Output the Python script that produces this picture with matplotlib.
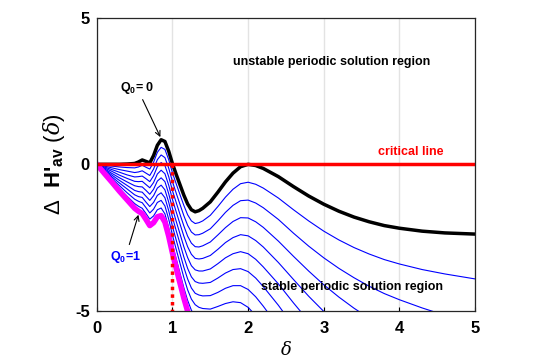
import matplotlib
matplotlib.use("Agg")
import matplotlib.pyplot as plt

plt.rcParams['font.family'] = ['Liberation Sans', 'DejaVu Sans']
plt.rcParams['mathtext.fontset'] = 'custom'
plt.rcParams['mathtext.rm'] = 'Liberation Sans'
plt.rcParams['mathtext.bf'] = 'Liberation Sans:bold'
plt.rcParams['mathtext.it'] = 'DejaVu Serif:italic'

# delta values where the curves were read
delta = [0, 0.1, 0.2, 0.3, 0.4, 0.5, 0.55, 0.6, 0.65, 0.7, 0.75, 0.8, 0.85, 0.9, 0.95,
         1.0, 1.05, 1.1, 1.15, 1.2, 1.25, 1.3, 1.35, 1.4, 1.5, 1.6, 1.7, 1.8, 1.9, 2.0,
         2.1, 2.2, 2.4, 2.6, 2.8, 3.0, 3.2, 3.4, 3.6, 3.8, 4.0, 4.3, 4.6, 5.0]

# Q0 = 0 (black)
h_q00 = [0, 0, 0, 0, 0.01, 0.03, 0.08, 0.15, 0.10, 0.05, 0.30, 0.65, 0.84, 0.78, 0.45,
         0.02, -0.35, -0.70, -1.05, -1.35, -1.55, -1.62, -1.58, -1.50, -1.28, -0.95, -0.60,
         -0.30, -0.08, 0, -0.04, -0.14, -0.42, -0.76, -1.08, -1.36, -1.60, -1.80, -1.96,
         -2.09, -2.18, -2.28, -2.34, -2.38]

# intermediate Q0 (blue), each read until it leaves the bottom of the axes
h_q01 = [0, -0.03, -0.06, -0.09, -0.11, -0.12, -0.09, -0.03, -0.10, -0.16, 0.07, 0.41, 0.58,
         0.51, 0.16, -0.29, -0.67, -1.04, -1.40, -1.72, -1.93, -2.02, -1.99, -1.93, -1.74,
         -1.44, -1.12, -0.85, -0.66, -0.61, -0.68, -0.81, -1.15, -1.55, -1.93, -2.28, -2.58,
         -2.84, -3.06, -3.25, -3.40, -3.59, -3.74, -3.91]
h_q02 = [0, -0.06, -0.12, -0.18, -0.23, -0.28, -0.26, -0.22, -0.30, -0.38, -0.16, 0.16, 0.32,
         0.23, -0.13, -0.59, -0.99, -1.37, -1.75, -2.08, -2.31, -2.41, -2.40, -2.35, -2.20,
         -1.93, -1.64, -1.40, -1.24, -1.22, -1.32, -1.48, -1.88, -2.35, -2.79, -3.19, -3.55,
         -3.87, -4.16, -4.41, -4.62, -4.90, -5.15, -5.43]
h_q03 = [0, -0.09, -0.18, -0.27, -0.36, -0.43, -0.42, -0.40, -0.49, -0.59, -0.39, -0.08, 0.06,
         -0.04, -0.42, -0.90, -1.31, -1.71, -2.10, -2.45, -2.69, -2.81, -2.82, -2.78, -2.65,
         -2.41, -2.16, -1.95, -1.82, -1.83, -1.96, -2.15, -2.62, -3.14, -3.64, -4.11, -4.53,
         -4.91, -5.25]
h_q04 = [0, -0.12, -0.24, -0.37, -0.48, -0.58, -0.59, -0.58, -0.69, -0.80, -0.62, -0.33, -0.20,
         -0.32, -0.71, -1.20, -1.63, -2.04, -2.45, -2.81, -3.07, -3.21, -3.23, -3.21, -3.11,
         -2.90, -2.67, -2.50, -2.40, -2.44, -2.60, -2.82, -3.35, -3.93, -4.50, -5.02, -5.50]
h_q05 = [0, -0.15, -0.31, -0.46, -0.60, -0.73, -0.76, -0.77, -0.89, -1.02, -0.85, -0.57, -0.46,
         -0.59, -1.00, -1.51, -1.95, -2.38, -2.81, -3.18, -3.46, -3.60, -3.64, -3.64, -3.57,
         -3.39, -3.19, -3.05, -2.98, -3.05, -3.24, -3.50, -4.08, -4.73, -5.35]
h_q06 = [0, -0.18, -0.37, -0.55, -0.72, -0.89, -0.93, -0.95, -1.09, -1.23, -1.07, -0.81, -0.71,
         -0.87, -1.29, -1.81, -2.27, -2.71, -3.16, -3.55, -3.84, -4.00, -4.05, -4.06, -4.03,
         -3.88, -3.71, -3.59, -3.56, -3.66, -3.88, -4.17, -4.81, -5.52]
h_q07 = [0, -0.21, -0.43, -0.64, -0.84, -1.04, -1.10, -1.13, -1.29, -1.44, -1.30, -1.06, -0.97,
         -1.14, -1.58, -2.12, -2.59, -3.05, -3.51, -3.91, -4.22, -4.40, -4.46, -4.49, -4.48,
         -4.37, -4.23, -4.14, -4.14, -4.27, -4.52, -4.84, -5.54]
h_q08 = [0, -0.24, -0.49, -0.73, -0.97, -1.19, -1.26, -1.31, -1.48, -1.66, -1.53, -1.30, -1.23,
         -1.42, -1.87, -2.42, -2.91, -3.38, -3.86, -4.28, -4.60, -4.79, -4.88, -4.92, -4.94,
         -4.85, -4.75, -4.69, -4.72, -4.88, -5.16]
h_q09 = [0, -0.27, -0.55, -0.82, -1.09, -1.34, -1.43, -1.50, -1.68, -1.87, -1.76, -1.55, -1.49,
         -1.69, -2.16, -2.73, -3.23, -3.72, -4.21, -4.64, -4.98, -5.19, -5.29]

# Q0 = 1 (magenta)
h_q10 = [0, -0.31, -0.61, -0.92, -1.21, -1.50, -1.60, -1.68, -1.88, -2.09, -1.99, -1.79, -1.75,
         -1.97, -2.45, -3.03, -3.55, -4.06, -4.56, -5.01, -5.36]

blue_curves = [h_q01, h_q02, h_q03, h_q04, h_q05, h_q06, h_q07, h_q08, h_q09]

fig = plt.figure(figsize=(5.38, 3.64), dpi=100)
ax = fig.add_axes([0.180, 0.146, 0.703, 0.805])

for c in blue_curves:
    ax.plot(delta[:len(c)], c, color='#0000ff', lw=0.8)
ax.plot(delta, h_q00, color='black', lw=2.5)
ax.plot(delta[:len(h_q10)], h_q10, color='#ff00ff', lw=4)

# critical line and delta = 1 marker
ax.plot([0, 5], [0, 0], color='#ff0000', lw=2.5)
ax.plot([1, 1], [0, -5], color='#ff0000', lw=2.5, linestyle=(0, (1, 1.2)))

ax.set_xlim(0, 5)
ax.set_ylim(-5, 5)
ax.set_xticks([0, 1, 2, 3, 4, 5])
ax.set_yticks([-5, 0, 5])
ax.set_yticklabels(['-5', '0', '5'])
ax.xaxis.grid(True, color='#e3e3e3', lw=1)
ax.set_axisbelow(True)
ax.tick_params(direction='in', length=3, labelsize=12, width=0.8)
ax.tick_params(axis='x', pad=7)
ax.tick_params(axis='y', pad=5)
for lab in ax.get_xticklabels() + ax.get_yticklabels():
    lab.set_fontweight('bold')
for sp in ax.spines.values():
    sp.set_linewidth(0.9)
    sp.set_color('#262626')

ax.set_xlabel(r'$\delta$', fontsize=13, labelpad=4)
ax.set_ylabel("$\\Delta$  H'$_{\\mathbf{av}}$ $(\\delta)$", fontsize=16, fontweight='bold',
              labelpad=6)

ax.text(3.1, 3.5, 'unstable periodic solution region', fontsize=9, fontweight='bold',
        ha='center', va='center')
ax.text(4.15, 0.42, 'critical line', fontsize=9, fontweight='bold', color='#ff0000',
        ha='center', va='center')
ax.text(3.37, -4.2, 'stable periodic solution region', fontsize=9, fontweight='bold',
        ha='center', va='center')

ax.annotate(r'$\mathbf{Q_0}$= 0', xy=(0.84, 0.93), xytext=(0.53, 2.62), fontsize=9,
            fontweight='bold', ha='center', va='center',
            arrowprops=dict(arrowstyle='->', color='black', lw=0.8, shrinkA=1, shrinkB=0))
ax.annotate(r'$\mathbf{Q_0}$=1', xy=(0.55, -1.72), xytext=(0.38, -3.15), fontsize=9,
            fontweight='bold', color='#0000ff', ha='center', va='center',
            arrowprops=dict(arrowstyle='->', color='black', lw=0.8, shrinkA=1, shrinkB=0))

fig.savefig('out.png', dpi=100)
